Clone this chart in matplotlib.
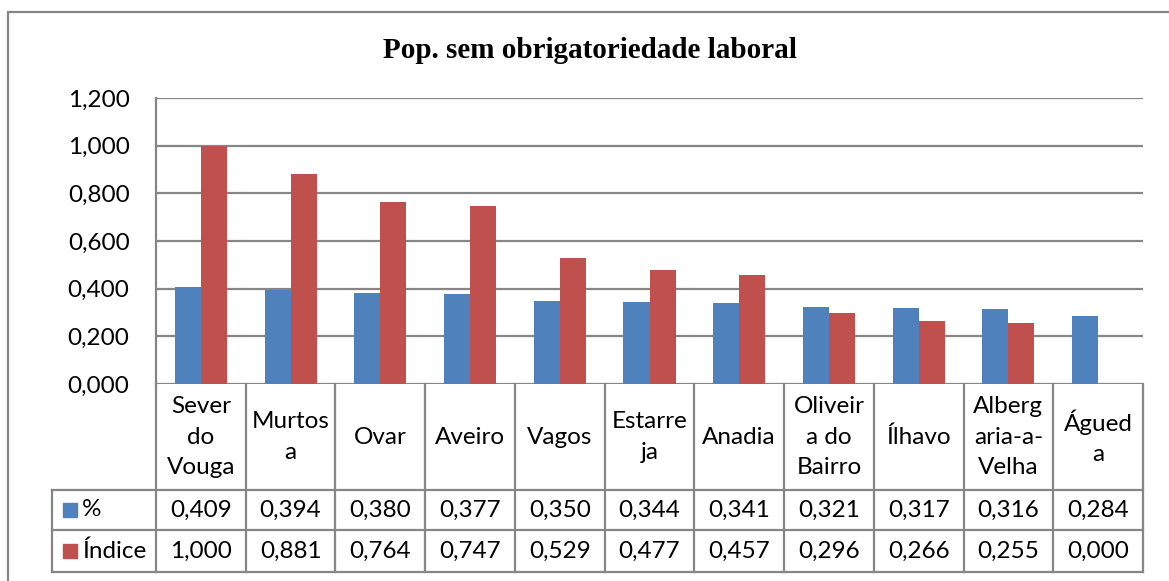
import matplotlib
matplotlib.use("Agg")
import matplotlib.pyplot as plt
from matplotlib.patches import Rectangle
from matplotlib.lines import Line2D
import matplotlib.transforms as mtransforms

categories = ["Sever\ndo\nVouga", "Murtos\na", "Ovar", "Aveiro", "Vagos", "Estarre\nja",
              "Anadia", "Oliveir\na do\nBairro", "Ílhavo", "Alberg\naria-a-\nVelha", "Águed\na"]
series_names = ["%", "Índice"]
pct = [0.409, 0.394, 0.380, 0.377, 0.350, 0.344, 0.341, 0.321, 0.317, 0.316, 0.284]
indice = [1.000, 0.881, 0.764, 0.747, 0.529, 0.477, 0.457, 0.296, 0.266, 0.255, 0.000]
yticks = [0.0, 0.2, 0.4, 0.6, 0.8, 1.0, 1.2]
title = "Pop. sem obrigatoriedade laboral"

BLUE = "#4F81BD"
RED = "#C0504D"
GRID = "#868686"
FONT = "Lato"
FS = 17.5

W, H = 1169, 581
fig = plt.figure(figsize=(W / 100, H / 100), dpi=100)

# axes (plot area) in pixels
L, R, T, B = 156, 1143, 98, 384
ax = fig.add_axes([L / W, 1 - B / H, (R - L) / W, (B - T) / H])
n = len(categories)
ax.set_xlim(-0.5, n - 0.5)
ax.set_ylim(0, 1.2)

bw = 0.29
xs = list(range(n))
ax.bar([x - bw / 2 for x in xs], pct, width=bw, color=BLUE, zorder=3)
ax.bar([x + bw / 2 for x in xs], indice, width=bw, color=RED, zorder=3)

ax.set_yticks(yticks)
ax.set_yticklabels([f"{v:.3f}".replace(".", ",") for v in yticks], fontsize=FS, family=FONT)
ax.tick_params(axis="y", length=0, pad=19)
ax.set_xticks([])
for y in yticks:
    ax.axhline(y, color=GRID, lw=1.6, zorder=1)
for s in ["top", "right", "bottom"]:
    ax.spines[s].set_visible(False)
ax.spines["left"].set_color(GRID)
ax.spines["left"].set_linewidth(1.6)

# table below, in blended coords (x data, y axes)
trans = mtransforms.blended_transform_factory(ax.transData, ax.transAxes)
ph = B - T
def ya(py):
    return (B - py) / ph

y_cat = ya(490)
y_pct = ya(530)
y_idx = ya(572)
x_left = -0.5 - (L - 52) / ((R - L) / n)

def line(x0, x1, y0, y1):
    ax.add_line(Line2D([x0, x1], [y0, y1], transform=trans, color=GRID, lw=1.6,
                       clip_on=False, zorder=2))

for yy in [y_cat, y_pct, y_idx]:
    line(x_left, n - 0.5, yy, yy)
for k in range(n + 1):
    line(k - 0.5, k - 0.5, 0, y_idx)
line(x_left, x_left, y_cat, y_idx)

for i, c in enumerate(categories):
    ax.text(i, (0 + y_cat) / 2, c, transform=trans, ha="center", va="center",
            fontsize=FS, family=FONT, linespacing=1.55)
    ax.text(i, (y_cat + y_pct) / 2, f"{pct[i]:.3f}".replace(".", ","), transform=trans,
            ha="center", va="center", fontsize=FS, family=FONT)
    ax.text(i, (y_pct + y_idx) / 2, f"{indice[i]:.3f}".replace(".", ","), transform=trans,
            ha="center", va="center", fontsize=FS, family=FONT)

# legend keys in table
for name, col, y0, y1 in [(series_names[0], BLUE, y_cat, y_pct), (series_names[1], RED, y_pct, y_idx)]:
    yc = (y0 + y1) / 2
    cy_px = B - yc * ph
    fig.patches.append(Rectangle((63 / W, 1 - (cy_px + 7) / H), 14 / W, 14 / H,
                                 transform=fig.transFigure, color=col, figure=fig))
    fig.text(82 / W, 1 - cy_px / H, name, ha="left", va="center", fontsize=FS, family=FONT)

# outer chart border
fig.patches.append(Rectangle((8 / W, -0.1), 1.2, 1 - 12 / H + 0.1, transform=fig.transFigure,
                             fill=False, edgecolor=GRID, lw=1.6, figure=fig))

fig.text(590 / W, 1 - 50 / H, title, ha="center", va="center", fontsize=21,
         family="Liberation Serif", weight="bold")

fig.savefig("out.png", dpi=100)
